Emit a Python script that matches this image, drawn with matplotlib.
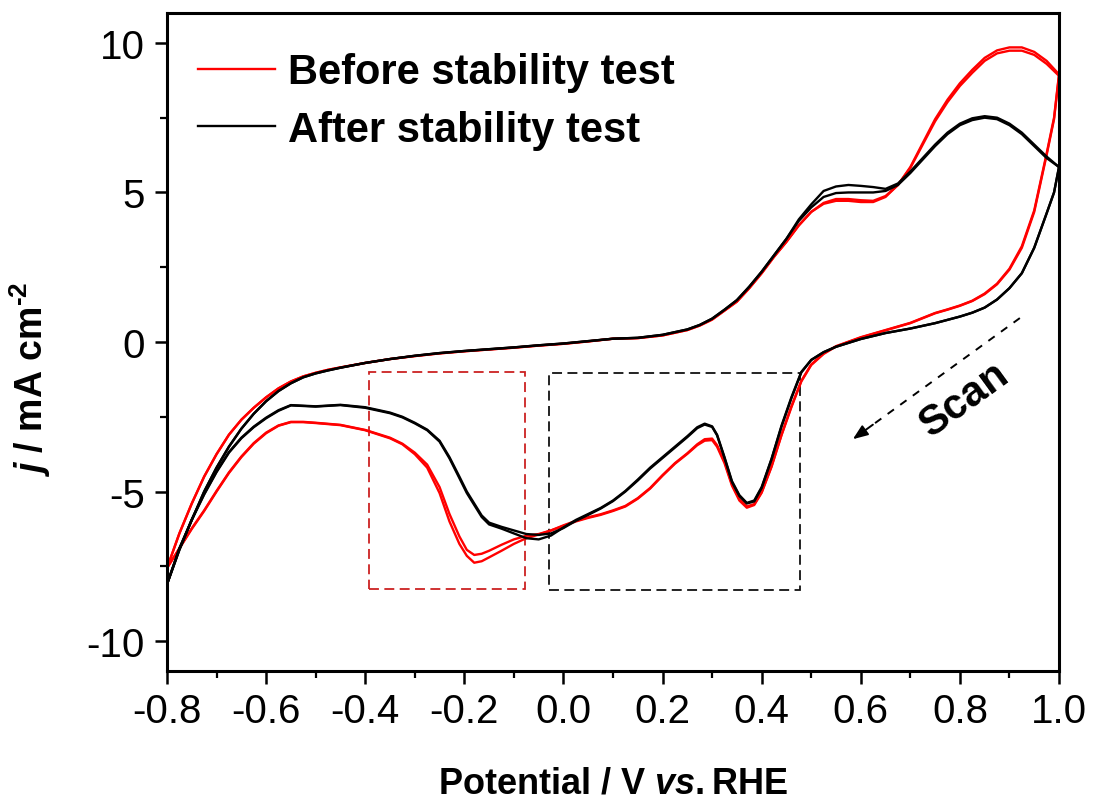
import matplotlib
matplotlib.use("Agg")
import matplotlib.pyplot as plt
from matplotlib import font_manager
from matplotlib.patches import Rectangle
from matplotlib.ticker import MultipleLocator

# ---------------- data ----------------
V_fwd = [-0.80, -0.775, -0.75, -0.725, -0.70, -0.675, -0.65, -0.625, -0.60, -0.575,
         -0.55, -0.525, -0.50, -0.475, -0.45, -0.40, -0.35, -0.30, -0.25, -0.20,
         -0.15, -0.10, -0.05, 0.00, 0.05, 0.10, 0.15, 0.20, 0.25, 0.275,
         0.30, 0.325, 0.35, 0.375, 0.40, 0.425, 0.45, 0.475, 0.50, 0.525,
         0.55, 0.575, 0.60, 0.625, 0.65, 0.675, 0.70, 0.725, 0.75, 0.775,
         0.80, 0.825, 0.85, 0.875, 0.90, 0.925, 0.95, 0.975, 1.00]

red_fwd_1 = [-7.56, -6.40, -5.40, -4.50, -3.75, -3.10, -2.60, -2.20, -1.85, -1.55,
             -1.32, -1.15, -1.03, -0.93, -0.85, -0.70, -0.57, -0.47, -0.38, -0.31,
             -0.25, -0.19, -0.12, -0.06, 0.02, 0.11, 0.13, 0.22, 0.40, 0.55,
             0.75, 1.05, 1.35, 1.80, 2.30, 2.85, 3.35, 3.90, 4.35, 4.62,
             4.72, 4.72, 4.68, 4.68, 4.85, 5.25, 5.85, 6.65, 7.45, 8.10,
             8.65, 9.10, 9.50, 9.75, 9.85, 9.85, 9.70, 9.40, 8.95]
red_fwd_2 = [-7.56, -6.40, -5.40, -4.50, -3.75, -3.10, -2.60, -2.20, -1.85, -1.55,
             -1.32, -1.15, -1.03, -0.93, -0.85, -0.70, -0.57, -0.47, -0.38, -0.31,
             -0.25, -0.19, -0.12, -0.06, 0.02, 0.11, 0.13, 0.22, 0.40, 0.55,
             0.75, 1.05, 1.35, 1.80, 2.30, 2.85, 3.35, 3.90, 4.35, 4.65,
             4.78, 4.78, 4.74, 4.72, 4.88, 5.25, 5.82, 6.60, 7.38, 8.02,
             8.56, 9.00, 9.40, 9.65, 9.74, 9.74, 9.60, 9.30, 8.90]

black_fwd_1 = [-8.10, -6.90, -5.95, -5.00, -4.20, -3.50, -2.90, -2.40, -1.98, -1.64,
               -1.38, -1.18, -1.05, -0.95, -0.86, -0.70, -0.57, -0.46, -0.37, -0.30,
               -0.24, -0.18, -0.11, -0.05, 0.03, 0.11, 0.14, 0.24, 0.42, 0.57,
               0.78, 1.08, 1.40, 1.85, 2.35, 2.90, 3.45, 4.10, 4.60, 5.05,
               5.20, 5.25, 5.22, 5.18, 5.12, 5.30, 5.70, 6.15, 6.60, 7.00,
               7.30, 7.48, 7.55, 7.50, 7.30, 7.00, 6.60, 6.20, 5.85]
black_fwd_2 = [-8.10, -6.90, -5.95, -5.00, -4.20, -3.50, -2.90, -2.40, -1.98, -1.64,
               -1.38, -1.18, -1.05, -0.95, -0.86, -0.70, -0.57, -0.46, -0.37, -0.30,
               -0.24, -0.18, -0.11, -0.05, 0.03, 0.11, 0.14, 0.24, 0.42, 0.57,
               0.78, 1.08, 1.40, 1.85, 2.35, 2.90, 3.45, 4.05, 4.50, 4.85,
               4.98, 5.00, 5.00, 5.00, 5.05, 5.25, 5.65, 6.10, 6.55, 6.95,
               7.25, 7.42, 7.50, 7.45, 7.25, 6.95, 6.55, 6.15, 5.85]

V_rev = [1.00, 0.99, 0.975, 0.95, 0.925, 0.90, 0.875, 0.85, 0.825, 0.80,
         0.775, 0.75, 0.70, 0.65, 0.60, 0.55, 0.525, 0.50, 0.48, 0.46,
         0.44, 0.42, 0.40, 0.385, 0.37, 0.355, 0.34, 0.325, 0.31, 0.30,
         0.285, 0.27, 0.25, 0.225, 0.20, 0.175, 0.15, 0.125, 0.10, 0.075,
         0.05, 0.025, 0.00, -0.025, -0.05, -0.075, -0.10, -0.125, -0.15, -0.165,
         -0.18, -0.195, -0.21, -0.23, -0.25, -0.275, -0.30, -0.325, -0.35, -0.40,
         -0.45, -0.50, -0.525, -0.55, -0.575, -0.60, -0.625, -0.65, -0.675, -0.70,
         -0.725, -0.75, -0.775, -0.80]

red_rev_1 = [8.95, 7.50, 6.30, 4.40, 3.20, 2.45, 1.95, 1.62, 1.38, 1.22,
             1.09, 0.97, 0.64, 0.40, 0.16, -0.14, -0.38, -0.75, -1.30, -2.15,
             -3.10, -4.15, -5.02, -5.42, -5.50, -5.25, -4.75, -4.00, -3.45, -3.23,
             -3.25, -3.42, -3.72, -4.05, -4.45, -4.88, -5.22, -5.48, -5.63, -5.76,
             -5.86, -5.98, -6.13, -6.30, -6.44, -6.56, -6.75, -6.98, -7.20, -7.33,
             -7.38, -7.15, -6.75, -6.00, -5.05, -4.20, -3.75, -3.42, -3.22, -2.95,
             -2.78, -2.71, -2.68, -2.68, -2.80, -3.05, -3.40, -3.85, -4.38, -5.00,
             -5.65, -6.25, -6.90, -7.56]
red_rev_2 = [8.90, 7.45, 6.25, 4.35, 3.15, 2.42, 1.93, 1.60, 1.37, 1.21,
             1.08, 0.96, 0.63, 0.39, 0.15, -0.15, -0.40, -0.77, -1.32, -2.18,
             -3.12, -4.17, -5.04, -5.45, -5.54, -5.30, -4.80, -4.05, -3.50, -3.28,
             -3.30, -3.45, -3.74, -4.07, -4.47, -4.90, -5.24, -5.50, -5.65, -5.78,
             -5.88, -6.00, -6.15, -6.30, -6.42, -6.48, -6.60, -6.78, -6.98, -7.08,
             -7.12, -6.95, -6.50, -5.75, -4.85, -4.10, -3.70, -3.40, -3.20, -2.94,
             -2.77, -2.70, -2.67, -2.67, -2.79, -3.03, -3.38, -3.83, -4.36, -4.98,
             -5.63, -6.23, -6.90, -7.56]

black_rev_1 = [5.85, 5.00, 4.30, 3.15, 2.30, 1.80, 1.42, 1.15, 0.98, 0.85,
               0.74, 0.63, 0.45, 0.30, 0.10, -0.16, -0.34, -0.60, -1.00, -1.85,
               -2.80, -3.90, -4.85, -5.30, -5.38, -5.12, -4.65, -3.85, -3.10, -2.82,
               -2.73, -2.85, -3.15, -3.50, -3.85, -4.20, -4.60, -4.98, -5.30, -5.55,
               -5.75, -5.95, -6.20, -6.47, -6.60, -6.56, -6.40, -6.24, -6.10, -5.85,
               -5.45, -5.05, -4.55, -3.89, -3.33, -2.95, -2.72, -2.52, -2.38, -2.20,
               -2.11, -2.16, -2.14, -2.12, -2.30, -2.55, -2.85, -3.22, -3.70, -4.35,
               -5.10, -5.95, -6.95, -8.10]
black_rev_2 = [5.85, 5.00, 4.30, 3.15, 2.30, 1.80, 1.42, 1.15, 0.98, 0.85,
               0.74, 0.63, 0.45, 0.30, 0.10, -0.16, -0.34, -0.60, -1.02, -1.88,
               -2.83, -3.92, -4.88, -5.33, -5.40, -5.15, -4.68, -3.88, -3.12, -2.84,
               -2.76, -2.88, -3.18, -3.53, -3.88, -4.23, -4.63, -5.00, -5.32, -5.57,
               -5.78, -5.98, -6.22, -6.40, -6.45, -6.42, -6.30, -6.18, -6.04, -5.80,
               -5.40, -5.00, -4.50, -3.85, -3.30, -2.93, -2.70, -2.50, -2.36, -2.18,
               -2.10, -2.15, -2.13, -2.11, -2.28, -2.53, -2.83, -3.20, -3.68, -4.33,
               -5.08, -5.93, -6.95, -8.10]

labels = ["Before stability test", "After stability test"]
colors = ["#ff0000", "#000000"]

# annotation positions (data coordinates)
red_box = (-0.393, -8.26, 0.315, 7.26)     # x, y, width, height
black_box = (-0.030, -8.28, 0.507, 7.25)
scan_start = (0.921, 0.80)
scan_end = (0.584, -3.25)
scan_text_pos = (0.81, -1.89)

# ---------------- fonts ----------------
names = {f.name for f in font_manager.fontManager.ttflist}
base = "Liberation Sans" if "Liberation Sans" in names else "DejaVu Sans"

plt.rcParams["font.family"] = [base, "DejaVu Sans"]
plt.rcParams["axes.unicode_minus"] = False
plt.rcParams["mathtext.fontset"] = "custom"
plt.rcParams["mathtext.rm"] = f"{base}:bold"
plt.rcParams["mathtext.bf"] = f"{base}:bold"
plt.rcParams["mathtext.it"] = f"{base}:italic:bold"

fig = plt.figure(figsize=(10.94, 8.03), dpi=100)
ax = fig.add_axes([167 / 1094, 1 - 672 / 803, (1059 - 167) / 1094, (672 - 14) / 803])

lw = 1.7
# red curves (two recorded cycles, forward and reverse sweeps)
l_red, = ax.plot(V_fwd, red_fwd_1, color=colors[0], lw=lw, label=labels[0])
ax.plot(V_fwd, red_fwd_2, color=colors[0], lw=lw)
ax.plot(V_rev, red_rev_1, color=colors[0], lw=lw)
ax.plot(V_rev, red_rev_2, color=colors[0], lw=lw)
# black curves
l_blk, = ax.plot(V_fwd, black_fwd_1, color=colors[1], lw=lw, label=labels[1])
ax.plot(V_fwd, black_fwd_2, color=colors[1], lw=lw)
ax.plot(V_rev, black_rev_1, color=colors[1], lw=lw)
ax.plot(V_rev, black_rev_2, color=colors[1], lw=lw)

# dashed boxes
ax.add_patch(Rectangle(red_box[:2], red_box[2], red_box[3], fill=False,
                       edgecolor="#cc2222", lw=1.3, linestyle=(0, (5.5, 3.0))))
ax.add_patch(Rectangle(black_box[:2], black_box[2], black_box[3], fill=False,
                       edgecolor="#111111", lw=1.3, linestyle=(0, (5.5, 3.0))))

# scan arrow
fx = scan_end[0] + 0.12 * (scan_start[0] - scan_end[0])
fy = scan_end[1] + 0.12 * (scan_start[1] - scan_end[1])
ax.plot([scan_start[0], fx], [scan_start[1], fy], color="black", lw=1.4,
        linestyle=(0, (4, 4)))
ax.annotate("", xy=scan_end, xytext=(fx, fy),
            arrowprops=dict(arrowstyle="-|>,head_length=0.9,head_width=0.35",
                            color="black", lw=1.4, shrinkA=0, shrinkB=0))
ax.text(scan_text_pos[0], scan_text_pos[1], "Scan", rotation=36,
        rotation_mode="anchor", ha="center", va="center",
        fontsize=30, fontweight="bold")

# axes
ax.set_xlim(-0.8, 1.0)
ax.set_ylim(-11, 11)
ax.xaxis.set_major_locator(MultipleLocator(0.2))
ax.xaxis.set_minor_locator(MultipleLocator(0.1))
ax.set_yticks([-10, -5, 0, 5, 10])
ax.yaxis.set_minor_locator(MultipleLocator(2.5))
ax.set_xticklabels([f"{v:.1f}" for v in ax.get_xticks()])

for s in ax.spines.values():
    s.set_linewidth(2.2)
ax.tick_params(which="major", direction="out", length=9, width=1.8,
               top=False, right=False)
ax.tick_params(which="minor", direction="out", length=5, width=1.6,
               top=False, right=False)
ax.tick_params(axis="x", which="major", pad=6, labelsize=29)
ax.tick_params(axis="y", which="major", pad=7, labelsize=29)

ax.set_xlabel(r"Potential / V $\it{vs.}$RHE", fontsize=26, fontweight="bold")
ax.xaxis.set_label_coords(0.5, -0.143)
ax.set_ylabel("$\\it{j}$ / mA cm$^{\u20102}$", fontsize=27, fontweight="bold")
ax.yaxis.set_label_coords(-0.128, 0.445)

ax.legend(handles=[l_red, l_blk], loc="upper left", bbox_to_anchor=(0.035, 0.94),
          frameon=False, borderpad=0, borderaxespad=0, handlelength=1.85,
          handletextpad=0.3, labelspacing=0.42,
          prop=dict(family=base, weight="bold", size=30))

fig.savefig("out.png", dpi=100)
